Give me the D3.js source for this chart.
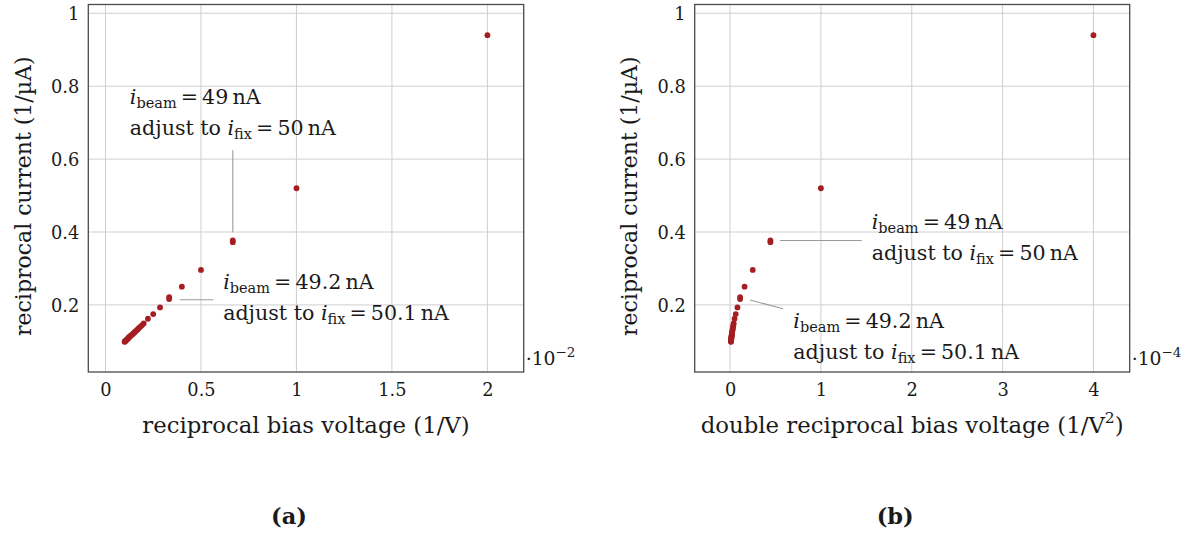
<!DOCTYPE html>
<html>
<head>
<meta charset="utf-8">
<script src="https://cdn.jsdelivr.net/npm/d3@7"></script>
<style>
  body { margin: 0; background: #fff; }
  text { font-family: "DejaVu Serif", "Liberation Serif", serif; fill: #1a1a1a; }
</style>
</head>
<body>
<svg id="chart" width="1191" height="535"></svg>
<script>
// Bias voltage settings (V); 150 V and 300 V were measured twice
const biasVoltage = [50, 100, 150, 150, 200, 250, 300, 300, 350, 400, 450, 500,
  525, 550, 575, 600, 625, 650, 675, 700, 725, 750, 775, 800, 825, 850, 875,
  900, 925, 950, 975, 1000];
// Reciprocal beam current (1/µA) at each bias voltage
const reciprocalCurrent = [0.940, 0.520, 0.372, 0.377, 0.296, 0.250, 0.216, 0.221,
  0.193, 0.175, 0.162, 0.149, 0.144, 0.140, 0.136, 0.132, 0.129, 0.126, 0.123,
  0.120, 0.118, 0.116, 0.114, 0.112, 0.110, 0.108, 0.106, 0.105, 0.103, 0.102,
  0.100, 0.099];

const xTicksA = [0, 0.5, 1, 1.5, 2];
const xTicksB = [0, 1, 2, 3, 4];
const yTicks = [0.2, 0.4, 0.6, 0.8, 1];

// abscissae in the units printed on the axes (·10^-2 and ·10^-4)
const invV = biasVoltage.map(v => 100 / v);
const invV2 = biasVoltage.map(v => 1e4 / (v * v));

const panels = [
  {
    key: "a", left: 88.3, right: 523.7, xDomain: [-0.09, 2.19], xs: invV,
    ticks: xTicksA, exponent: "−2", yLabelX: 31,
    xLabel: ["reciprocal bias voltage (1/V)"],
    notes: [
      { idx: 2, beam: "49", fix: "50", from: [0, -10], to: [0, -92], text: [-103, -138] },
      { idx: 6, beam: "49.2", fix: "50.1", from: [10.6, 0.6], to: [44, 0.6], text: [54, -10] }
    ]
  },
  {
    key: "b", left: 694.7, right: 1129.7, xDomain: [-0.389, 4.399], xs: invV2,
    ticks: xTicksB, exponent: "−4", yLabelX: 637,
    xLabel: ["double reciprocal bias voltage (1/V", "2", ")"],
    notes: [
      { idx: 2, beam: "49", fix: "50", from: [9.6, -1.7], to: [91.3, -1.7], text: [101.3, -13] },
      { idx: 6, beam: "49.2", fix: "50.1", from: [10, 1], to: [43, 9.6], text: [53.2, 28.6] }
    ]
  }
];

const plotTop = 4.5, plotBottom = 372;
const svg = d3.select("#chart");
const y = d3.scaleLinear().domain([0.016, 1.024]).range([plotBottom, plotTop]);
const gridColor = "#cfcfcf", frameColor = "#4a4a4a", dotColor = "#a41e22";
const fmt = d => d3.format("~g")(d);
const labelSize = 22.8, tickSize = 17.8, noteSize = 20.6, subSize = 14.5;

panels.forEach(p => {
  const x = d3.scaleLinear().domain(p.xDomain).range([p.left, p.right]);
  const g = svg.append("g");

  // grid
  g.append("g").selectAll("line").data(p.ticks).join("line")
    .attr("x1", d => x(d)).attr("x2", d => x(d))
    .attr("y1", plotTop).attr("y2", plotBottom)
    .attr("stroke", gridColor).attr("stroke-width", 1);
  g.append("g").selectAll("line").data(yTicks).join("line")
    .attr("x1", p.left).attr("x2", p.right)
    .attr("y1", d => y(d)).attr("y2", d => y(d))
    .attr("stroke", gridColor).attr("stroke-width", 1);

  // tick labels via axis generators
  const xAxis = d3.axisBottom(x).tickValues(p.ticks).tickFormat(fmt).tickSize(0).tickPadding(0);
  const gx = g.append("g").attr("transform", `translate(0,${plotBottom})`).call(xAxis);
  gx.select(".domain").remove();
  gx.selectAll("text").attr("dy", null).attr("y", 24).attr("font-size", tickSize).attr("font-family", null).attr("fill", null);

  const yAxis = d3.axisLeft(y).tickValues(yTicks).tickFormat(fmt).tickSize(0).tickPadding(0);
  const gy = g.append("g").attr("transform", `translate(${p.left - 9},0)`).call(yAxis);
  gy.select(".domain").remove();
  gy.selectAll("text").attr("dy", "0.36em").attr("x", 0).attr("font-size", tickSize).attr("font-family", null).attr("fill", null);

  // frame
  g.append("rect").attr("x", p.left).attr("y", plotTop)
    .attr("width", p.right - p.left).attr("height", plotBottom - plotTop)
    .attr("fill", "none").attr("stroke", frameColor).attr("stroke-width", 1.3);

  // scale factor label
  const ex = g.append("text").attr("x", p.right + 2).attr("y", plotBottom - 7).attr("font-size", tickSize + 1);
  ex.append("tspan").text("·10");
  ex.append("tspan").attr("dy", -8).attr("font-size", subSize - 1).text(p.exponent);

  // data points
  g.append("g").selectAll("circle").data(reciprocalCurrent).join("circle")
    .attr("cx", (d, i) => x(p.xs[i])).attr("cy", d => y(d))
    .attr("r", 2.9).attr("fill", dotColor);

  // annotations
  p.notes.forEach(n => {
    const px = x(p.xs[n.idx]), py = y(reciprocalCurrent[n.idx]);
    g.append("line")
      .attr("x1", px + n.from[0]).attr("y1", py + n.from[1])
      .attr("x2", px + n.to[0]).attr("y2", py + n.to[1])
      .attr("stroke", "#9a9a9a").attr("stroke-width", 1.1);
    const tx = px + n.text[0], ty = py + n.text[1];
    const l1 = g.append("text").attr("x", tx).attr("y", ty).attr("font-size", noteSize);
    l1.append("tspan").attr("font-style", "italic").text("i");
    l1.append("tspan").attr("font-size", subSize).attr("dy", 4).text("beam");
    l1.append("tspan").attr("dy", -4).text(`\u2009=\u2009${n.beam}\u2009nA`);
    const l2 = g.append("text").attr("x", tx).attr("y", ty + 31).attr("font-size", noteSize);
    l2.append("tspan").text("adjust to ");
    l2.append("tspan").attr("font-style", "italic").text("i");
    l2.append("tspan").attr("font-size", subSize).attr("dy", 4).text("fix");
    l2.append("tspan").attr("dy", -4).text(`\u2009=\u2009${n.fix}\u2009nA`);
  });

  // axis titles
  const cx = (p.left + p.right) / 2;
  const xl = g.append("text").attr("x", cx).attr("y", 433).attr("text-anchor", "middle").attr("font-size", labelSize);
  xl.append("tspan").text(p.xLabel[0]);
  if (p.xLabel.length > 1) {
    xl.append("tspan").attr("dy", -10).attr("font-size", subSize + 1).text(p.xLabel[1]);
    xl.append("tspan").attr("dy", 10).text(p.xLabel[2]);
  }
  g.append("text")
    .attr("transform", `translate(${p.yLabelX},${(plotTop + plotBottom) / 2 + 8}) rotate(-90)`)
    .attr("text-anchor", "middle").attr("font-size", labelSize - 0.8)
    .text("reciprocal current (1/µA)");

  // panel caption
  g.append("text").attr("x", cx - 17).attr("y", 524).attr("text-anchor", "middle")
    .attr("font-size", 22.5).attr("font-weight", "bold").text(`(${p.key})`);
});
</script>
</body>
</html>
